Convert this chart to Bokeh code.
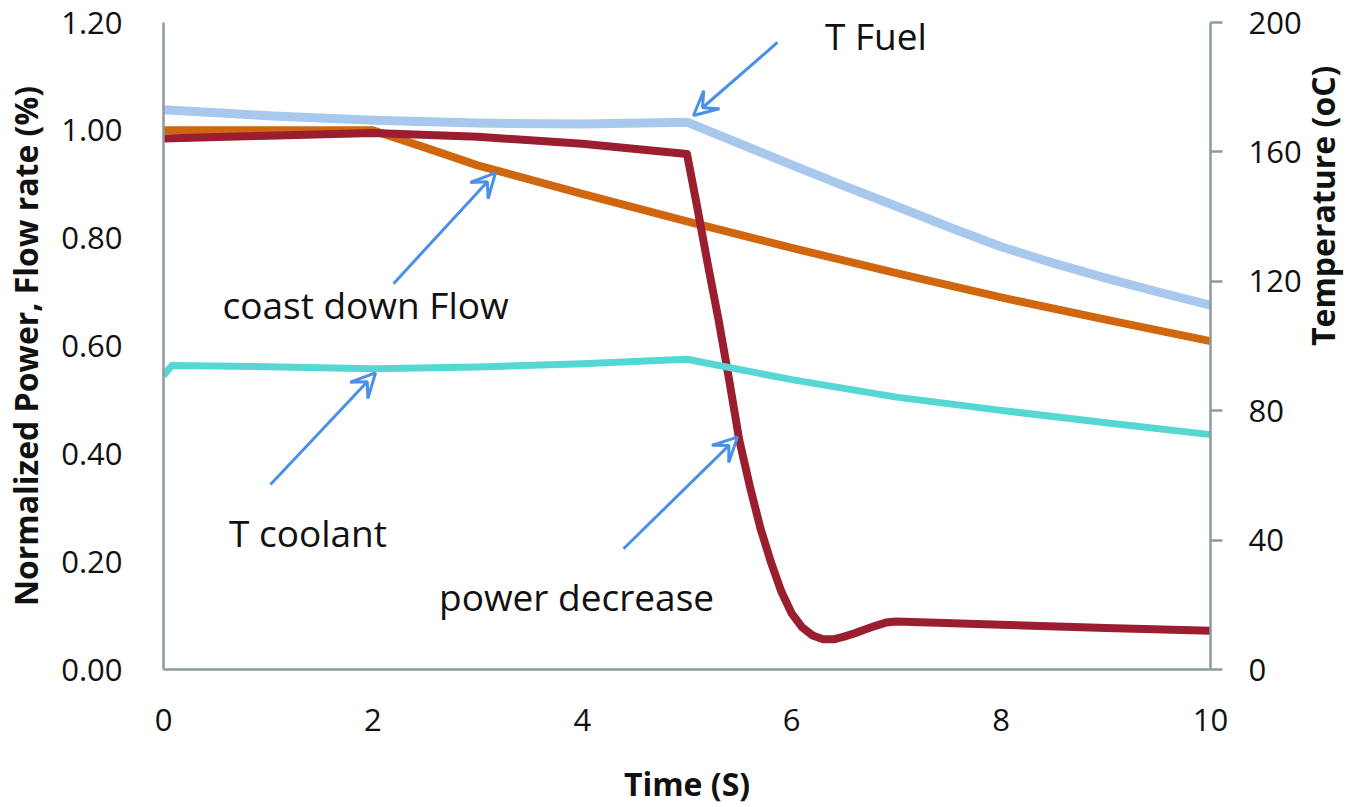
import math
from bokeh.plotting import figure
from bokeh.models import (Range1d, LinearAxis, FixedTicker, PrintfTickFormatter,
                          Arrow, VeeHead, Label)
from bokeh.embed import file_html
from bokeh.resources import INLINE

# ---------------- data ----------------
t_power = [0, 1, 2, 3, 4, 5, 5.1, 5.2, 5.3, 5.4, 5.5, 5.6, 5.7, 5.8, 5.9, 6.0,
           6.1, 6.2, 6.3, 6.4, 6.5, 6.6, 6.7, 6.8, 6.9, 7.0, 8, 9, 10]
power = [0.985, 0.990, 0.995, 0.988, 0.975, 0.956, 0.855, 0.75, 0.65, 0.54,
         0.425, 0.34, 0.263, 0.20, 0.145, 0.104, 0.078, 0.063, 0.056, 0.056,
         0.061, 0.067, 0.074, 0.081, 0.087, 0.089, 0.083, 0.077, 0.072]

t_flow = [0, 1, 2, 2.5, 3, 4, 5, 6, 7, 8, 9, 10]
flow = [1.0, 1.0, 1.0, 0.968, 0.935, 0.882, 0.831, 0.782, 0.735, 0.690, 0.649, 0.609]

t_coolant = [0, 0.08, 1, 2, 3, 4, 5, 6, 7, 8, 9, 10]
t_cool_vals = [90.8, 94.0, 93.6, 93.0, 93.5, 94.5, 95.9, 89.6, 84.2, 80.1, 76.3, 72.6]

t_fuel = [0, 1, 2, 3, 4, 5, 5.5, 6, 6.5, 7, 7.5, 8, 8.5, 9, 9.5, 10]
t_fuel_vals = [173.0, 171.2, 169.8, 168.9, 168.6, 169.2, 162.6, 156.0, 149.5, 143.2,
               136.8, 130.7, 125.6, 121.0, 116.7, 112.6]

x_ticks = [0, 2, 4, 6, 8, 10]
left_ticks = [0.0, 0.2, 0.4, 0.6, 0.8, 1.0, 1.2]
right_ticks = [0, 40, 80, 120, 160, 200]

# ---------------- styling ----------------
FONT = "Open Sans"
AXIS_COLOR = "#8C9A9A"
ARROW_COLOR = "#4A90E8"
TEXT_COLOR = "#111111"
C_FUEL = "#A9C8EE"
C_FLOW = "#D0670F"
C_POWER = "#9A1D30"
C_COOL = "#55D8D3"

p = figure(width=1370, height=807, output_backend="svg", toolbar_location=None,
           x_range=Range1d(0, 10), y_range=Range1d(0, 1.2),
           min_border_left=163, min_border_right=160, min_border_top=22,
           min_border_bottom=137)
p.extra_y_ranges = {"temp": Range1d(0, 200)}
p.outline_line_color = None
p.grid.visible = False
p.background_fill_color = "white"
p.border_fill_color = "white"

# lines
p.line(t_fuel, t_fuel_vals, y_range_name="temp", line_color=C_FUEL, line_width=9,
       line_join="round")
p.line(t_flow, flow, line_color=C_FLOW, line_width=8, line_join="round")
p.line(t_power, power, line_color=C_POWER, line_width=8, line_join="round")
p.line(t_coolant, t_cool_vals, y_range_name="temp", line_color=C_COOL, line_width=7,
       line_join="round")

# axes
def style_axis(ax, ticks, fmt=None):
    ax.ticker = FixedTicker(ticks=ticks)
    if fmt:
        ax.formatter = PrintfTickFormatter(format=fmt)
    ax.axis_line_color = AXIS_COLOR
    ax.axis_line_width = 2.5
    ax.major_tick_line_color = AXIS_COLOR
    ax.major_tick_line_width = 2.5
    ax.minor_tick_line_color = None
    ax.major_label_text_font = FONT
    ax.major_label_text_font_size = "31px"
    ax.major_label_text_color = TEXT_COLOR
    ax.axis_label_text_font = FONT
    ax.axis_label_text_font_size = "32px"
    ax.axis_label_text_font_style = "bold"
    ax.axis_label_text_color = TEXT_COLOR

xa = p.xaxis[0]
style_axis(xa, x_ticks)
xa.major_tick_in = 0
xa.major_tick_out = 0
xa.major_label_standoff = 39
xa.axis_label = "Time (S)"
xa.axis_label_standoff = 28

ya = p.yaxis[0]
style_axis(ya, left_ticks, "%.2f")
ya.major_tick_in = 0
ya.major_tick_out = 0
ya.major_label_standoff = 41
ya.axis_label = "Normalized Power, Flow rate (%)"
ya.axis_label_standoff = 11

ra = LinearAxis(y_range_name="temp")
style_axis(ra, right_ticks)
ra.major_tick_in = 0
ra.major_tick_out = 12
ra.major_label_standoff = 26
ra.axis_label = "Temperature (oC)"
ra.axis_label_standoff = 18
ra.axis_label_orientation = math.pi / 2
p.add_layout(ra, "right")

# annotation arrows
def arrow(x0, y0, x1, y1):
    p.add_layout(Arrow(end=VeeHead(size=24, line_color=ARROW_COLOR, line_width=3,
                                   fill_color=None),
                       x_start=x0, y_start=y0, x_end=x1, y_end=y1,
                       line_color=ARROW_COLOR, line_width=3))

arrow(5.864, 1.163, 5.062, 1.0275)   # T Fuel
arrow(2.197, 0.7156, 3.171, 0.921)   # coast down Flow
arrow(1.022, 0.343, 2.025, 0.550)    # T coolant
arrow(4.394, 0.224, 5.482, 0.431)    # power decrease

def note(x, y, txt):
    p.add_layout(Label(x=x, y=y, text=txt, text_font=FONT, text_font_size="37px",
                       text_color=TEXT_COLOR, text_align="center",
                       text_baseline="alphabetic"))

note(6.805, 1.175, "T Fuel")
note(1.93, 0.677, "coast down Flow")
note(1.38, 0.254, "T coolant")
note(3.945, 0.1345, "power decrease")

open("out.html", "w").write(file_html(p, INLINE))
